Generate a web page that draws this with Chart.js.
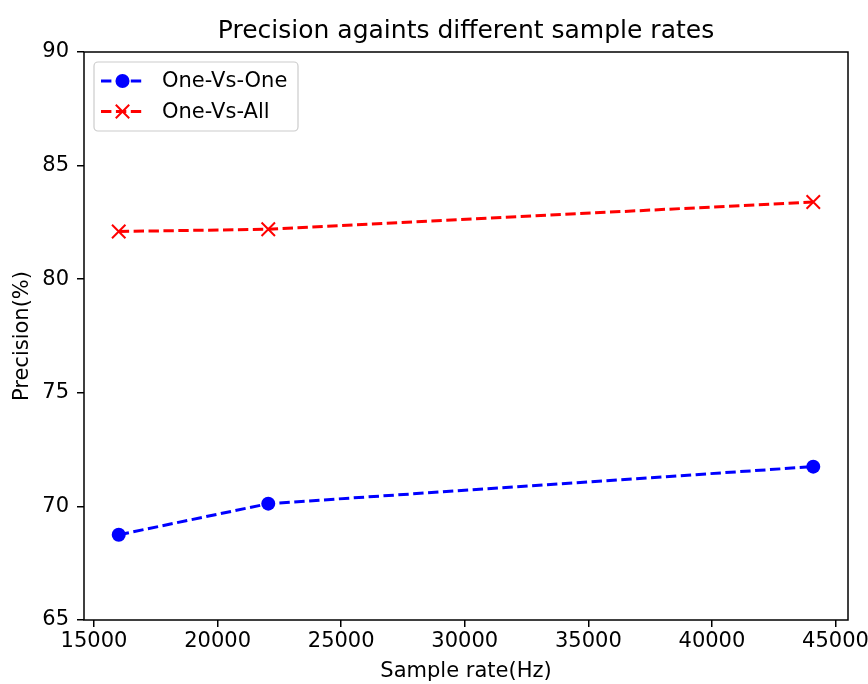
<!DOCTYPE html>
<html lang="en">
<head>
    <meta charset="UTF-8">
    <title>Precision againts different sample rates</title>
    <style>
        html, body { margin: 0; padding: 0; background: #fff; }
        .blocker { width: 868px; height: 684px; }
    </style>
    <script src="https://cdn.jsdelivr.net/npm/chart.js"></script>
</head>
<body>
    <div class="blocker">
        <canvas id="myChart" width="868" height="684"></canvas>
    </div>

    <script>
        // data
        const sampleRates = [16000, 22050, 44100];
        const oneVsOne = [68.75, 70.12, 71.75];
        const oneVsAll = [82.1, 82.2, 83.4];
        const xTicks = [15000, 20000, 25000, 30000, 35000, 40000, 45000];
        const yTicks = [65, 70, 75, 80, 85, 90];

        const FONT = "'DejaVu Sans', sans-serif";
        const ctx = document.getElementById('myChart');

        function toPoints(ys) {
            return sampleRates.map((x, i) => ({ x: x, y: ys[i] }));
        }

        // title, top/right spines and a matplotlib-like legend
        const mplLook = {
            id: 'mplLook',
            afterDraw(chart) {
                const c = chart.ctx;
                const a = chart.chartArea;
                c.save();
                c.strokeStyle = '#000';
                c.lineWidth = 1.5;
                c.strokeRect(a.left, a.top, a.right - a.left, a.bottom - a.top);

                c.fillStyle = '#000';
                c.font = '25px ' + FONT;
                c.textAlign = 'center';
                c.textBaseline = 'middle';
                c.fillText('Precision againts different sample rates', (a.left + a.right) / 2, 31);

                // legend box
                const bx = a.left + 10, by = a.top + 10, bw = 204, bh = 69;
                c.beginPath();
                c.roundRect(bx, by, bw, bh, 4);
                c.fillStyle = 'rgba(255,255,255,0.8)';
                c.fill();
                c.strokeStyle = '#cccccc';
                c.lineWidth = 1.2;
                c.stroke();

                chart.data.datasets.forEach((ds, i) => {
                    const y = by + 19 + i * 30.5;
                    c.strokeStyle = ds.borderColor;
                    c.lineWidth = ds.borderWidth;
                    c.setLineDash(ds.borderDash);
                    c.beginPath();
                    c.moveTo(bx + 7, y);
                    c.lineTo(bx + 50, y);
                    c.stroke();
                    c.setLineDash([]);
                    const mx = bx + 28.5;
                    if (ds.pointStyle === 'circle') {
                        c.fillStyle = ds.pointBackgroundColor;
                        c.beginPath();
                        c.arc(mx, y, ds.pointRadius, 0, Math.PI * 2);
                        c.fill();
                    } else {
                        const r = ds.pointRadius * Math.SQRT1_2;
                        c.lineWidth = ds.pointBorderWidth;
                        c.beginPath();
                        c.moveTo(mx - r, y - r); c.lineTo(mx + r, y + r);
                        c.moveTo(mx - r, y + r); c.lineTo(mx + r, y - r);
                        c.stroke();
                    }
                    c.fillStyle = '#000';
                    c.font = '21px ' + FONT;
                    c.textAlign = 'left';
                    c.fillText(ds.label, bx + 68, y + 1);
                });
                c.restore();
            }
        };

        new Chart(ctx, {
            type: 'line',
            data: {
                datasets: [{
                    label: 'One-Vs-One',
                    data: toPoints(oneVsOne),
                    borderColor: '#0000ff',
                    backgroundColor: '#0000ff',
                    pointBackgroundColor: '#0000ff',
                    pointBorderColor: '#0000ff',
                    borderWidth: 3,
                    borderDash: [10.4, 4.5],
                    pointStyle: 'circle',
                    pointRadius: 7,
                    pointBorderWidth: 0,
                    tension: 0
                }, {
                    label: 'One-Vs-All',
                    data: toPoints(oneVsAll),
                    borderColor: '#ff0000',
                    backgroundColor: '#ff0000',
                    pointBackgroundColor: '#ff0000',
                    pointBorderColor: '#ff0000',
                    borderWidth: 3,
                    borderDash: [10.4, 4.5],
                    pointStyle: 'crossRot',
                    pointRadius: 9.5,
                    pointBorderWidth: 2,
                    tension: 0
                }]
            },
            options: {
                responsive: false,
                animation: false,
                layout: {
                    padding: { top: 52, right: 20, left: 0, bottom: 0 }
                },
                plugins: {
                    legend: { display: false },
                    tooltip: { enabled: false },
                    title: { display: false }
                },
                scales: {
                    x: {
                        type: 'linear',
                        min: 14595,
                        max: 45505,
                        afterFit(scale) { scale.height = 64; scale.paddingRight = 0; scale.paddingLeft = 0; },
                        afterBuildTicks(scale) { scale.ticks = xTicks.map(v => ({ value: v })); },
                        border: { display: false },
                        grid: { drawOnChartArea: false, color: '#000', lineWidth: 1.5, tickLength: 7 },
                        ticks: {
                            color: '#000',
                            font: { family: FONT, size: 21 },
                            padding: 2,
                            maxRotation: 0,
                            autoSkip: false,
                            callback: v => String(v)
                        },
                        title: {
                            display: true,
                            text: 'Sample rate(Hz)',
                            color: '#000',
                            font: { family: FONT, size: 21 },
                            padding: { top: 0, bottom: 0 }
                        }
                    },
                    y: {
                        min: 65,
                        max: 90,
                        afterFit(scale) { scale.width = 84; },
                        afterBuildTicks(scale) { scale.ticks = yTicks.map(v => ({ value: v })); },
                        border: { display: false },
                        grid: { drawOnChartArea: false, color: '#000', lineWidth: 1.5, tickLength: 7 },
                        ticks: {
                            color: '#000',
                            font: { family: FONT, size: 21 },
                            padding: 8,
                            callback: v => String(v)
                        },
                        title: {
                            display: true,
                            text: 'Precision(%)',
                            color: '#000',
                            font: { family: FONT, size: 21 },
                            padding: { top: 10, bottom: 0 }
                        }
                    }
                }
            },
            plugins: [mplLook]
        });
    </script>
</body>
</html>
